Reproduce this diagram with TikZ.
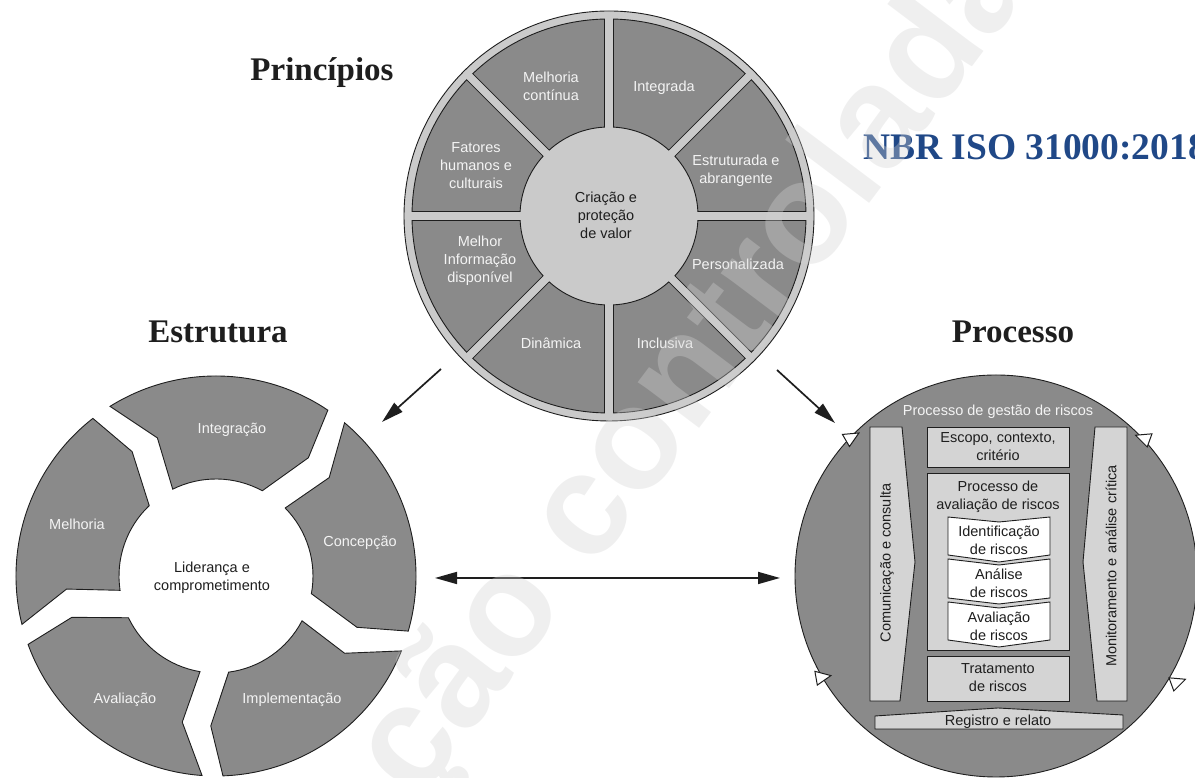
\documentclass[tikz,border=0pt]{standalone}
\usepackage{fontspec}
\setmainfont{Liberation Serif}
\newfontfamily\sansf{Liberation Sans}
\usetikzlibrary{arrows.meta}
\definecolor{segfill}{RGB}{138,138,138}
\definecolor{ringfill}{RGB}{202,202,202}
\definecolor{boxfill}{RGB}{212,212,212}
\definecolor{labelwhite}{RGB}{244,244,244}
\definecolor{nbrblue}{RGB}{32,72,135}
\definecolor{wmgray}{RGB}{210,210,210}
\definecolor{inkblack}{RGB}{30,30,30}

\begin{document}
\begin{tikzpicture}[x=1pt,y=1pt,
  seglabel/.style={font=\sansf\fontsize{14.5}{18}\selectfont, text=labelwhite, align=center, inner sep=0},
  darklabel/.style={font=\sansf\fontsize{14.5}{18}\selectfont, text=inkblack, align=center, inner sep=0},
  heading/.style={font=\fontsize{33}{40}\selectfont\bfseries, text=inkblack, anchor=base, inner sep=0},
  outline/.style={draw=inkblack, line width=0.9pt},
  boxshape/.style={fill=boxfill, outline},
  chevron/.style={fill=white, outline},
  bigarrow/.style={draw=inkblack, line width=1.7pt, -{Triangle[length=22pt,width=12pt]}},
  marker/.style={fill=white, draw=inkblack, line width=1pt}
]
\useasboundingbox (0,0) rectangle (1195,778);
\clip (0,0) rectangle (1195,778);

% ---------- Principles wheel ----------
\begin{scope}[shift={(609,562)}]
  \filldraw[fill=ringfill, outline] (0,0) circle (205);
  \filldraw[fill=segfill, outline, even odd rule] (0,0) circle (197) (0,0) circle (89);
  \foreach \a in {0,45,...,315}
    \draw[inkblack, line width=9.5pt] (\a:89) -- (\a:197);
  \foreach \a in {0,45,...,315}
    \draw[ringfill, line width=7.5pt] (\a:80) -- (\a:201.5);
\end{scope}

\node[seglabel] (p1) at (551,692) {Melhoria\\contínua};
\node[seglabel] (p2) at (664,690) {Integrada};
\node[seglabel] (p3) at (736,607) {Estruturada e\\abrangente};
\node[seglabel] (p4) at (738,514) {Personalizada};
\node[seglabel] (p5) at (665,435) {Inclusiva};
\node[seglabel] (p6) at (551,435) {Dinâmica};
\node[seglabel] (p7) at (480,517) {Melhor\\Informação\\disponível};
\node[seglabel] (p8) at (476,612) {Fatores\\humanos e\\culturais};
\node[darklabel] (pc) at (606,563) {Criação e\\proteção\\de valor};

% ---------- Framework cycle ----------
\begin{scope}[shift={(216,202)}]
  \foreach \c in {89,17,-55,-127,-199}
    \filldraw[fill=segfill, outline]
      ({\c+33}:200) arc[start angle={\c+33}, end angle={\c-33}, radius=200]
      -- ({\c-37}:150) -- ({\c-27.5}:97)
      arc[start angle={\c-27.5}, end angle={\c+27.5}, radius=97]
      -- ({\c+24}:150) -- cycle;
\end{scope}

\node[seglabel] (f1) at (232,348) {Integração};
\node[seglabel] (f2) at (360,235) {Concepção};
\node[seglabel] (f3) at (292,78) {Implementação};
\node[seglabel] (f4) at (125,78) {Avaliação};
\node[seglabel] (f5) at (77,254) {Melhoria};
\node[darklabel] (fc) at (212,200) {Liderança e\\comprometimento};

% ---------- Process circle ----------
\filldraw[fill=segfill, outline] (996,202) circle (201);

% side bands
\filldraw[boxshape] (870,351) -- (902,351) -- (915,216) -- (900,77) -- (870,77) -- cycle;
\filldraw[boxshape] (1127,351) -- (1095,351) -- (1083,216) -- (1097,77) -- (1127,77) -- cycle;
% central column
\filldraw[boxshape] (927,311) rectangle (1069,351);
\filldraw[boxshape] (927,128) rectangle (1069,305);
\filldraw[boxshape] (927,77) rectangle (1069,122);
% recording band
\filldraw[boxshape] (875,49) -- (875,62) -- (998,70) -- (1123,63) -- (1123,49) -- cycle;
% assessment steps
\filldraw[chevron] (948,261) -- (999,256) -- (1050,261) -- (1050,223) -- (999,216) -- (948,223) -- cycle;
\filldraw[chevron] (948,219) -- (999,213) -- (1050,219) -- (1050,180) -- (999,174) -- (948,180) -- cycle;
\filldraw[chevron] (948,176) -- (999,170) -- (1050,176) -- (1050,138) -- (999,131) -- (948,138) -- cycle;

% open arrowheads on the rim
\foreach \x/\y/\r in {852/341/30, 1143/340/160, 823/101/10, 1178/96/20}
  \filldraw[marker, shift={(\x,\y)}, rotate=\r] (8,0) -- (-7,7) -- (-7,-7) -- cycle;

\node[seglabel] (q0) at (998,366) {Processo de gestão de riscos};
\node[darklabel] (q1) at (998,331) {Escopo, contexto,\\critério};
\node[darklabel] (q2) at (998,281) {Processo de\\avaliação de riscos};
\node[darklabel] (q3) at (999,238) {Identificação\\de riscos};
\node[darklabel] (q4) at (999,195) {Análise\\de riscos};
\node[darklabel] (q5) at (999,152) {Avaliação\\de riscos};
\node[darklabel] (q6) at (998,100) {Tratamento\\de riscos};
\node[darklabel] (q7) at (998,56) {Registro e relato};
\node[darklabel, rotate=90] (q8) at (887,215) {Comunicação e consulta};
\node[darklabel, rotate=90] (q9) at (1111,212) {Monitoramento e análise crítica};

% ---------- Headings ----------
\node[heading] (hp) at (322,697) {Princípios};
\node[heading] (hf) at (218,435) {Estrutura};
\node[heading] (hq) at (1013,435) {Processo};
\node[anchor=base west, font=\fontsize{37.5}{44}\selectfont\bfseries, text=nbrblue, inner sep=0] (nbr) at (863,618) {NBR ISO 31000:2018};

% ---------- Connectors ----------
\coordinate (pl) at (441,409);
\coordinate (fl) at (382,356);
\coordinate (pr) at (777,408);
\coordinate (qr) at (835,355);
\coordinate (fa) at (435,200);
\coordinate (qa) at (780,200);
\draw[bigarrow] (pl) -- (fl);
\draw[bigarrow] (pr) -- (qr);
\draw[bigarrow, {Triangle[length=22pt,width=12pt]}-{Triangle[length=22pt,width=12pt]}] (fa) -- (qa);

% ---------- Watermark ----------
\node[rotate=53, anchor=mid, text=wmgray, text opacity=0.35, inner sep=0,
      font=\sansf\bfseries\fontsize{145}{145}\selectfont] (wm) at (726,388) {ção controlada};
\end{tikzpicture}
\end{document}
